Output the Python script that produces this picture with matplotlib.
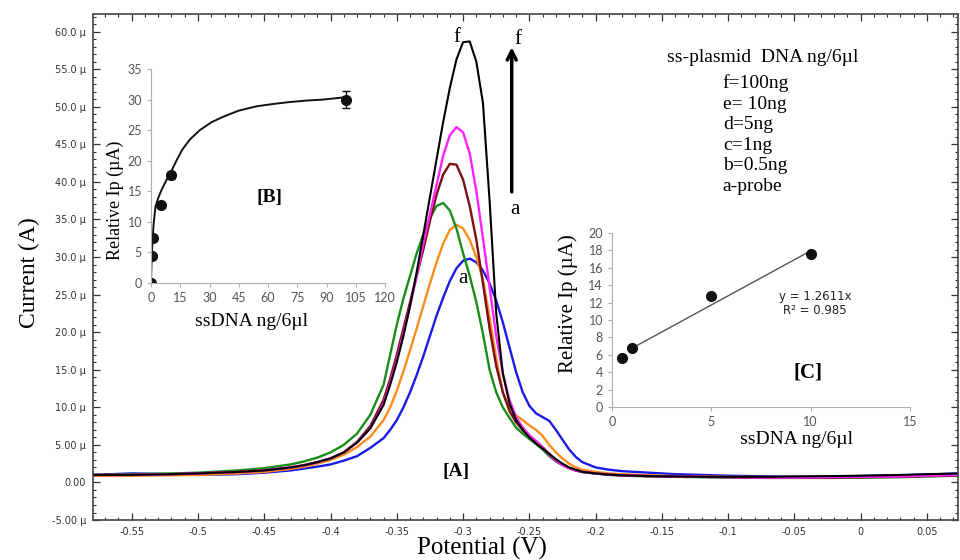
import matplotlib
matplotlib.use('Agg')
import matplotlib.pyplot as plt
from matplotlib.ticker import MultipleLocator, FuncFormatter

plt.rcParams['font.family'] = ['Liberation Serif', 'DejaVu Serif']

# ---- main DPV curves (potential in V, current in µA) ----
potential = [-0.58, -0.55, -0.52, -0.50, -0.47, -0.45, -0.43, -0.42, -0.41, -0.40,
             -0.39, -0.38, -0.37, -0.36, -0.355, -0.35, -0.345, -0.34, -0.335, -0.33,
             -0.325, -0.32, -0.315, -0.31, -0.305, -0.30, -0.295, -0.29, -0.285, -0.28,
             -0.275, -0.27, -0.265, -0.26, -0.255, -0.25, -0.245, -0.24, -0.235, -0.23,
             -0.225, -0.22, -0.215, -0.21, -0.20, -0.19, -0.18, -0.16, -0.14, -0.12,
             -0.10, -0.07, -0.05, -0.02, 0.0, 0.03, 0.05, 0.075]

curve_a = [1.0, 1.2, 1.1, 1.0, 1.1, 1.3, 1.6, 1.85, 2.1, 2.4,
           2.9, 3.5, 4.6, 5.9, 7.0, 8.3, 10.0, 12.0, 14.3, 16.8,
           19.5, 22.2, 24.6, 26.8, 28.5, 29.5, 29.8, 29.3, 28.2, 26.5,
           24.2, 21.3, 18.0, 14.7, 12.0, 10.2, 9.2, 8.7, 8.2, 7.0,
           5.7, 4.4, 3.4, 2.7, 2.0, 1.7, 1.5, 1.3, 1.1, 1.0,
           0.9, 0.8, 0.75, 0.8, 0.85, 0.95, 1.05, 1.2]
curve_b = [0.9, 0.9, 0.95, 1.0, 1.2, 1.4, 1.8, 2.1, 2.5, 3.0,
           3.7, 4.7, 6.1, 8.3, 10.0, 12.2, 14.8, 17.6, 20.5, 23.5,
           26.5, 29.3, 31.8, 33.6, 34.3, 33.8, 32.3, 30.0, 27.0, 22.0,
           16.5, 12.0, 10.0, 8.9, 8.3, 7.6, 7.0, 6.2, 5.0, 4.0,
           3.2, 2.5, 2.0, 1.7, 1.4, 1.2, 1.1, 0.95, 0.85, 0.8,
           0.75, 0.7, 0.65, 0.7, 0.75, 0.8, 0.9, 1.0]
curve_c = [1.0, 1.1, 1.2, 1.3, 1.6, 1.9, 2.4, 2.8, 3.3, 4.0,
           5.0, 6.5, 9.0, 13.0, 17.0, 21.0, 24.5, 27.5, 30.5, 33.0,
           35.2, 36.8, 37.2, 36.2, 33.8, 30.5, 27.5, 24.0, 19.8, 15.0,
           12.0, 10.0, 8.6, 7.3, 6.5, 5.8, 5.1, 4.4, 3.5, 2.8,
           2.3, 1.9, 1.6, 1.4, 1.2, 1.0, 0.9, 0.8, 0.75, 0.7,
           0.65, 0.6, 0.6, 0.6, 0.65, 0.7, 0.8, 0.9]
curve_d = [1.0, 1.0, 1.1, 1.2, 1.4, 1.6, 2.0, 2.3, 2.7, 3.2,
           4.0, 5.4, 7.5, 11.0, 13.8, 17.0, 20.5, 24.0, 27.5, 31.0,
           34.8, 38.3, 41.0, 42.4, 42.3, 40.3, 36.8, 32.3, 26.5, 20.5,
           15.5, 12.0, 9.5, 8.0, 7.0, 6.2, 5.5, 4.7, 3.8, 3.0,
           2.4, 1.9, 1.6, 1.4, 1.2, 1.05, 0.95, 0.85, 0.8, 0.75,
           0.7, 0.65, 0.65, 0.65, 0.7, 0.75, 0.85, 0.95]
curve_e = [1.0, 1.0, 1.1, 1.2, 1.4, 1.6, 2.0, 2.3, 2.7, 3.2,
           4.0, 5.3, 7.2, 10.5, 13.3, 16.3, 19.8, 23.5, 27.5, 31.8,
           35.7, 39.6, 43.5, 46.2, 47.3, 46.6, 43.8, 38.8, 32.5, 26.0,
           19.5, 14.5, 11.0, 8.7, 7.3, 6.3, 5.5, 4.6, 3.7, 2.9,
           2.3, 1.9, 1.6, 1.4, 1.2, 1.05, 0.95, 0.85, 0.8, 0.75,
           0.7, 0.65, 0.65, 0.7, 0.75, 0.8, 0.9, 1.0]
curve_f = [1.0, 1.0, 1.1, 1.2, 1.4, 1.6, 2.0, 2.3, 2.7, 3.2,
           4.0, 5.3, 7.2, 10.3, 13.0, 16.0, 19.5, 23.5, 28.0, 33.0,
           38.0, 43.0, 48.0, 52.5, 56.3, 58.6, 58.7, 56.0, 50.5, 37.5,
           22.5, 14.5, 10.5, 8.3, 7.0, 6.0, 5.2, 4.5, 3.8, 3.1,
           2.5, 2.0, 1.7, 1.4, 1.2, 1.05, 0.95, 0.85, 0.8, 0.75,
           0.75, 0.75, 0.8, 0.85, 0.9, 1.0, 1.1, 1.2]

curves = [curve_a, curve_b, curve_c, curve_d, curve_e, curve_f]
curve_colors = ['#1a1ae6', '#ff8c1a', '#1a8c1a', '#7a0f14', '#ff22ff', '#000000']

legend_title = 'ss-plasmid  DNA ng/6µl'
legend_lines = ['f=100ng', 'e= 10ng', 'd=5ng', 'c=1ng', 'b=0.5ng', 'a-probe']

# ---- inset B: saturation curve ----
b_conc = [0, 0.5, 1, 5, 10, 100]
b_ip = [0, 4.5, 7.3, 12.8, 17.6, 30.0]
b_err = [0, 0, 0, 0, 0.6, 1.4]
b_fit_x = [0, 0.3, 0.7, 1.3, 2.3, 3.8, 5.5, 8.0, 10, 13, 16, 20, 25, 31, 37, 45, 54, 63, 71, 80, 88, 100]
b_fit_y = [0, 4.0, 6.5, 9.5, 12.5, 14.0, 15.3, 16.9, 18.0, 20.0, 21.8, 23.5, 25.0, 26.3, 27.2, 28.2, 28.9, 29.3, 29.6, 29.85, 30.0, 30.4]

# ---- inset C: linear range ----
c_conc = [0.5, 1, 5, 10]
c_ip = [5.6, 6.8, 12.8, 17.6]
c_line_x = [1.2, 9.8]
c_line_y = [7.0, 17.7]

fig = plt.figure(figsize=(9.6, 5.6), dpi=100)
ax = fig.add_axes([0.0969, 0.0714, 0.9010, 0.9036])

for ys, col in zip(curves, curve_colors):
    ax.plot(potential, ys, color=col, lw=1.7 if col != '#000000' else 1.5)

ax.set_xlim(-0.5792, 0.0734)
ax.set_ylim(-5, 62.35)
ax.xaxis.set_major_locator(MultipleLocator(0.05))
ax.xaxis.set_minor_locator(MultipleLocator(0.01))
ax.yaxis.set_major_locator(MultipleLocator(5))
ax.yaxis.set_minor_locator(MultipleLocator(1))


def fmt_micro(v, pos):
    if abs(v) < 1e-9:
        return '0.00'
    if abs(v) < 10:
        return f'{v:.2f} µ'
    return f'{v:.1f} µ'


def fmt_pot(v, pos):
    s = f'{v:.2f}'.rstrip('0').rstrip('.')
    return '0' if s in ('-0', '0') else s


ax.yaxis.set_major_formatter(FuncFormatter(fmt_micro))
ax.xaxis.set_major_formatter(FuncFormatter(fmt_pot))
ax.tick_params(which='both', direction='in', top=True, right=True, colors='#333333',
               labelsize=7, pad=5)
ax.tick_params(which='major', length=5, width=0.9)
ax.tick_params(which='minor', length=2.5, width=0.8)
for lab in ax.get_xticklabels() + ax.get_yticklabels():
    lab.set_family('DejaVu Sans')
for sp in ax.spines.values():
    sp.set_color('#444444')
    sp.set_linewidth(1.2)

fig.text(0.031, 0.5125, 'Current (A)', rotation=90, ha='center', va='center', fontsize=17)
fig.text(0.502, 0.0214, 'Potential (V)', ha='center', va='center', fontsize=18)

# annotations on the voltammograms
ax.text(-0.3052, 1.4, '[A]', ha='center', va='center', fontsize=14, fontweight='bold')
ax.text(-0.3046, 59.2, 'f', ha='center', va='center', fontsize=15)
ax.text(-0.300, 27.2, 'a', ha='center', va='center', fontsize=15)
ax.annotate('', xy=(-0.2633, 58.3), xytext=(-0.2633, 38.3),
            arrowprops=dict(arrowstyle='->', lw=2.5, color='k', mutation_scale=16))
ax.text(-0.2585, 58.9, 'f', ha='center', va='center', fontsize=15)
ax.text(-0.2607, 36.3, 'a', ha='center', va='center', fontsize=15)

ax.text(-0.1461, 56.5, legend_title, ha='left', va='center', fontsize=14)
for i, line in enumerate(legend_lines):
    ax.text(-0.1040, 53.1 - i * 2.74, line, ha='left', va='center', fontsize=14)

# ---- inset B ----
axb = fig.add_axes([0.1573, 0.4946, 0.2438, 0.3821])
axb.patch.set_alpha(0)
axb.plot(b_fit_x, b_fit_y, color='#111111', lw=1.4)
axb.errorbar(b_conc, b_ip, yerr=b_err, fmt='o', color='#111111', ms=7,
             capsize=3, elinewidth=1, capthick=1)
axb.set_xlim(0, 120)
axb.set_ylim(0, 35)
axb.set_xticks(range(0, 121, 15))
axb.set_yticks(range(0, 36, 5))
axb.spines['top'].set_visible(False)
axb.spines['right'].set_visible(False)
for sp in ('left', 'bottom'):
    axb.spines[sp].set_color('#b0b0b0')
axb.tick_params(colors='#555555', labelsize=9, length=3, color='#b0b0b0')
for lab in axb.get_xticklabels() + axb.get_yticklabels():
    lab.set_family('Lato')
fig.text(0.1198, 0.6429, 'Relative Ip (µA)', rotation=90, ha='center', va='center', fontsize=13)
fig.text(0.2615, 0.425, 'ssDNA ng/6µl', ha='center', va='center', fontsize=14)
fig.text(0.28125, 0.648, '[B]', ha='center', va='center', fontsize=14, fontweight='bold')

# ---- inset C ----
axc = fig.add_axes([0.6375, 0.2732, 0.3104, 0.3107])
axc.patch.set_alpha(0)
axc.plot(c_line_x, c_line_y, color='#555555', lw=1)
axc.plot(c_conc, c_ip, 'o', color='#111111', ms=7)
axc.set_xlim(0, 15)
axc.set_ylim(0, 20)
axc.set_xticks([0, 5, 10, 15])
axc.set_yticks(range(0, 21, 2))
axc.spines['top'].set_visible(False)
axc.spines['right'].set_visible(False)
for sp in ('left', 'bottom'):
    axc.spines[sp].set_color('#b0b0b0')
axc.tick_params(colors='#555555', labelsize=9, length=3, color='#b0b0b0')
for lab in axc.get_xticklabels() + axc.get_yticklabels():
    lab.set_family('Lato')
fig.text(0.5917, 0.4571, 'Relative Ip (µA)', rotation=90, ha='center', va='center', fontsize=15)
fig.text(0.830, 0.2160, 'ssDNA ng/6µl', ha='center', va='center', fontsize=14)
fig.text(0.849, 0.4714, 'y = 1.2611x', ha='center', va='center', fontsize=8.5,
         family='DejaVu Sans', color='#222222')
fig.text(0.849, 0.4464, 'R² = 0.985', ha='center', va='center', fontsize=8.5,
         family='DejaVu Sans', color='#222222')
fig.text(0.8417, 0.3357, '[C]', ha='center', va='center', fontsize=15, fontweight='bold')

fig.savefig('out.png', dpi=100)
